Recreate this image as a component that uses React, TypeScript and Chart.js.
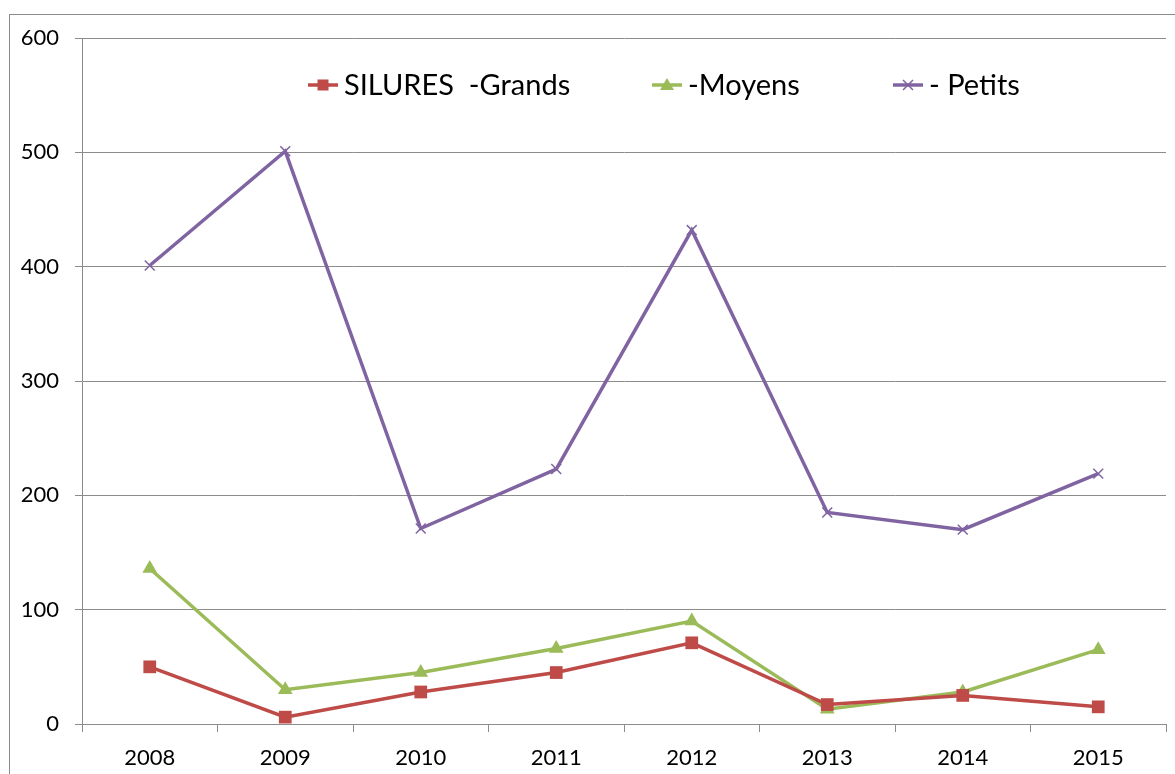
import React, { useEffect, useRef } from "react";
import { Chart, registerables } from "chart.js";

Chart.register(...registerables);

const years = ["2008", "2009", "2010", "2011", "2012", "2013", "2014", "2015"];
const grands = [50, 6, 28, 45, 71, 17, 25, 15];
const moyens = [136, 30, 45, 66, 90, 13, 28, 65];
const petits = [401, 501, 171, 223, 432, 185, 170, 219];
const seriesLabels = ["SILURES  -Grands", "-Moyens", "- Petits"];

const FONT = "Lato, 'Open Sans', sans-serif";

const frameAndLegend = {
  id: "frameAndLegend",
  beforeDraw(chart: any) {
    const ctx = chart.ctx;
    ctx.save();
    ctx.strokeStyle = "#8c8c8c";
    ctx.lineWidth = 1;
    ctx.strokeRect(9.5, 14.5, 1300, 900);
    ctx.restore();
  },
  afterDraw(chart: any) {
    const ctx = chart.ctx;
    const items = [
      { x: 308, ds: 0 },
      { x: 652, ds: 1 },
      { x: 893, ds: 2 },
    ];
    const y = 85;
    ctx.save();
    items.forEach((it) => {
      const ds = chart.data.datasets[it.ds];
      ctx.strokeStyle = ds.borderColor;
      ctx.lineWidth = 3.5;
      ctx.beginPath();
      ctx.moveTo(it.x, y);
      ctx.lineTo(it.x + 30, y);
      ctx.stroke();
      const cx = it.x + 15;
      ctx.fillStyle = ds.borderColor;
      if (it.ds === 0) {
        ctx.fillRect(cx - 5.5, y - 5.5, 11, 11);
      } else if (it.ds === 1) {
        ctx.beginPath();
        ctx.moveTo(cx, y - 7);
        ctx.lineTo(cx + 7, y + 5);
        ctx.lineTo(cx - 7, y + 5);
        ctx.closePath();
        ctx.fill();
      } else {
        ctx.lineWidth = 1.5;
        ctx.beginPath();
        ctx.moveTo(cx - 5, y - 5);
        ctx.lineTo(cx + 5, y + 5);
        ctx.moveTo(cx + 5, y - 5);
        ctx.lineTo(cx - 5, y + 5);
        ctx.stroke();
      }
      ctx.fillStyle = "#000";
      ctx.font = `29px ${FONT}`;
      ctx.textBaseline = "middle";
      ctx.textAlign = "left";
      ctx.fillText(ds.label, it.x + 36, y + 1);
    });
    ctx.restore();
  },
};

export default function App() {
  const ref = useRef<HTMLCanvasElement>(null);
  useEffect(() => {
    document.body.style.margin = "0";
    const chart = new Chart(ref.current!, {
      type: "line",
      data: {
        labels: years,
        datasets: [
          {
            label: seriesLabels[0],
            data: grands,
            borderColor: "#BE4B48",
            backgroundColor: "#BE4B48",
            borderWidth: 3.5,
            pointStyle: "rect",
            pointRadius: 9,
            pointBorderWidth: 0,
          },
          {
            label: seriesLabels[1],
            data: moyens,
            borderColor: "#9BBB59",
            backgroundColor: "#9BBB59",
            borderWidth: 3.5,
            pointStyle: "triangle",
            pointRadius: 8.5,
            pointBorderWidth: 0,
          },
          {
            label: seriesLabels[2],
            data: petits,
            borderColor: "#8064A2",
            backgroundColor: "#8064A2",
            borderWidth: 3.5,
            pointStyle: "crossRot",
            pointRadius: 7,
            pointBorderWidth: 1.5,
          },
        ],
      },
      options: {
        animation: false,
        responsive: false,
        maintainAspectRatio: false,
        layout: { padding: { top: 38, right: 5, left: 0, bottom: 0 } },
        plugins: { legend: { display: false }, tooltip: { enabled: false } },
        elements: { line: { tension: 0 } },
        scales: {
          x: {
            offset: true,
            grid: {
              offset: true,
              drawOnChartArea: false,
              drawTicks: true,
              tickLength: 8,
              color: "#8c8c8c",
            },
            border: { color: "#8c8c8c", width: 1 },
            ticks: {
              color: "#000",
              font: { family: FONT, size: 22 },
              padding: 13,
              maxRotation: 0,
            },
            afterFit(scale: any) {
              scale.height = 50;
            },
          },
          y: {
            min: 0,
            max: 600,
            ticks: {
              stepSize: 100,
              color: "#000",
              font: { family: FONT, size: 22 },
              padding: 16,
            },
            grid: { color: "#8c8c8c", tickLength: 7, lineWidth: 1 },
            border: { color: "#8c8c8c", width: 1 },
            afterFit(scale: any) {
              scale.width = 82;
            },
          },
        },
      },
      plugins: [frameAndLegend],
    });
    return () => chart.destroy();
  }, []);
  return (
    <canvas
      ref={ref}
      width={1175}
      height={774}
      style={{ display: "block", width: 1175, height: 774 }}
    />
  );
}
